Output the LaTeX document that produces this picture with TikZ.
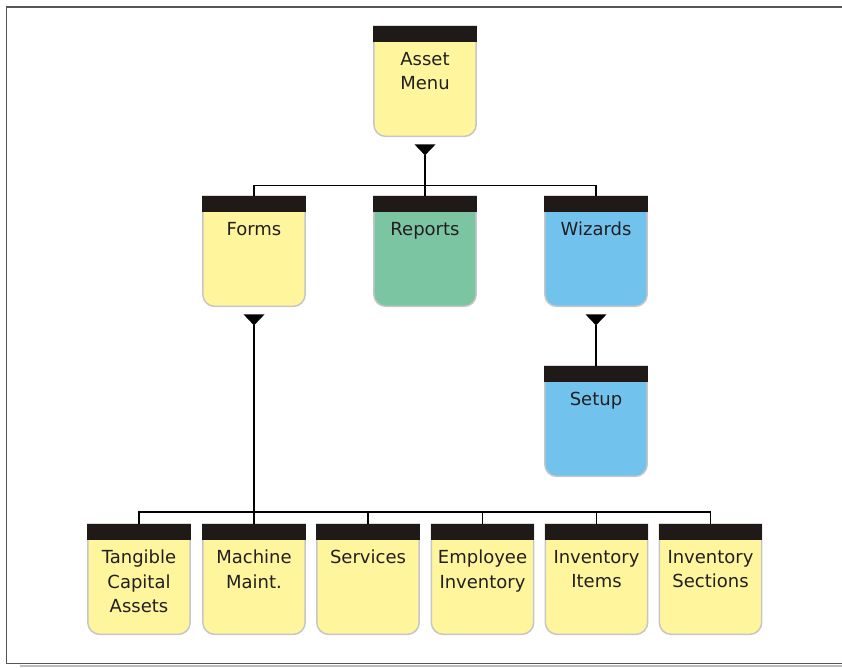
\documentclass[tikz,border=0pt]{standalone}
\usepackage{fontspec}
\setmainfont{DejaVu Sans}
\usetikzlibrary{calc}
\definecolor{boxyellow}{HTML}{FFF59D}
\definecolor{boxgreen}{HTML}{7BC5A2}
\definecolor{boxblue}{HTML}{72C2EE}
\definecolor{barblack}{HTML}{1F1A17}
\definecolor{boxgray}{HTML}{C6C6C6}
\definecolor{textdark}{HTML}{231F20}
\definecolor{framegray}{HTML}{555555}
\definecolor{shadowgray}{HTML}{BBBBBB}
\tikzset{
  boxnode/.style={rectangle, minimum width=102pt, minimum height=110pt, inner sep=0pt, anchor=north},
  boxtext/.style={anchor=north, inner sep=0pt, align=center, text=textdark, font=\fontsize{18}{24.5}\selectfont},
  bodyline/.style={draw=boxgray, line width=1.5pt},
  conn/.style={draw=black, line width=1.8pt},
  frameline/.style={draw=framegray, line width=1.4pt}
}
\newcommand\menuitem[5]{%
  \node[boxnode] (#1) at (#2,#3) {};
  \filldraw[fill=#4, bodyline] (#1.north west) -- ([yshift=12pt]#1.south west)
     arc[start angle=180,end angle=270,radius=12pt] -- ([xshift=-12pt]#1.south east)
     arc[start angle=270,end angle=360,radius=12pt] -- (#1.north east) -- cycle;
  \fill[barblack] ([xshift=-0.75pt]#1.north west) rectangle ([xshift=0.75pt,yshift=-16pt]#1.north east);
  \node[boxtext] (#1-label) at ([yshift=-26pt]#1.north) {#5};
}
\newcommand\droptri[2]{%
  \fill[black] ([xshift=-10.5pt,yshift=-8pt]#1.south) -- ([xshift=10.5pt,yshift=-8pt]#1.south)
     -- ([yshift=-19pt]#1.south) -- cycle;
  \coordinate (#2) at ([yshift=-19pt]#1.south);
}
\begin{document}
\begin{tikzpicture}[x=1pt, y=-1pt]
  \useasboundingbox (0,0) rectangle (842,667);
  % frame
  \draw[shadowgray, line width=2pt] (20,666) -- (842,666);
  \draw[frameline] (842,6.8) -- (6.6,6.8) -- (6.6,663.5) -- (842,663.5);

  % boxes
  \menuitem{am}{425}{26}{boxyellow}{Asset\\Menu}
  \menuitem{forms}{254}{196}{boxyellow}{Forms}
  \menuitem{rep}{425}{196}{boxgreen}{Reports}
  \menuitem{wiz}{596}{196}{boxblue}{Wizards}
  \menuitem{setup}{596}{366}{boxblue}{Setup}
  \menuitem{tca}{139}{524}{boxyellow}{Tangible\\Capital\\Assets}
  \menuitem{mm}{254}{524}{boxyellow}{Machine\\Maint.}
  \menuitem{srv}{368}{524}{boxyellow}{Services}
  \menuitem{emp}{482.5}{524}{boxyellow}{Employee\\Inventory}
  \menuitem{invi}{596.5}{524}{boxyellow}{Inventory\\Items}
  \menuitem{invs}{710.5}{524}{boxyellow}{Inventory\\Sections}

  % triangles
  \droptri{am}{am-tip}
  \droptri{forms}{forms-tip}
  \droptri{wiz}{wiz-tip}

  % connectors level 1 -> 2
  \coordinate (bus1) at (425,185.5);
  \draw[conn] (am-tip) -- (rep.north);
  \draw[conn] (forms.north) |- (bus1) -| (wiz.north);

  % wizards -> setup
  \draw[conn] (wiz-tip) -- (setup.north);

  % forms -> level 3
  \coordinate (bus3) at (254,512);
  \draw[conn] (forms-tip) -- (mm.north);
  \draw[conn] (tca.north) |- (bus3) -| (invs.north);
  \draw[conn] (srv.north) -- (srv.north |- bus3);
  \draw[conn] (emp.north) -- (emp.north |- bus3);
  \draw[conn] (invi.north) -- (invi.north |- bus3);
\end{tikzpicture}
\end{document}
